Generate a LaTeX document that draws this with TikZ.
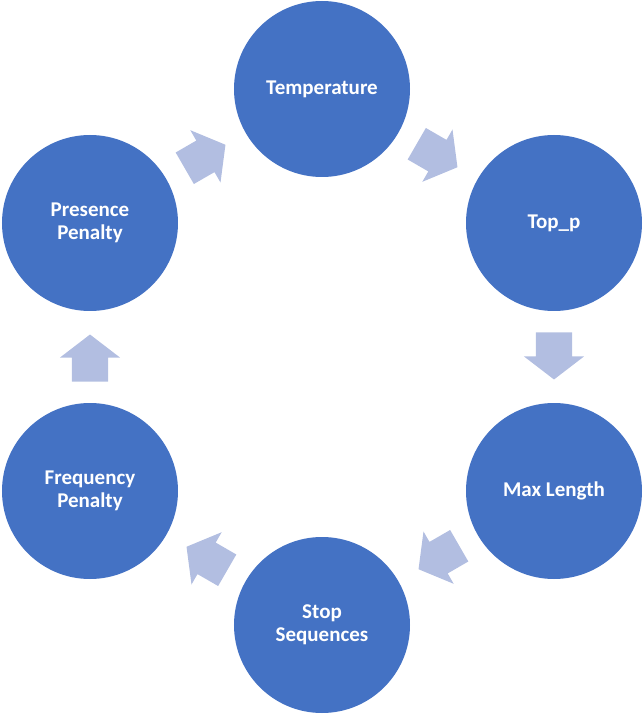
\documentclass[tikz,border=0pt]{standalone}
\usepackage{fontspec}
\setmainfont{Carlito}
\usepackage{tikz}
\usepackage{xcolor}
\usetikzlibrary{shapes,arrows,positioning,calc}
\definecolor{stepBlue}{RGB}{68,114,196}
\definecolor{arrowLilac}{RGB}{178,190,225}

\begin{document}
\begin{tikzpicture}[x=1pt, y=1pt,
    param/.style={circle, fill=stepBlue, minimum size=176pt, inner sep=0pt, align=center,
        text=white, font=\fontsize{21}{23}\selectfont\bfseries},
    cyclearrow/.style={single arrow, fill=arrowLilac, inner sep=0pt, minimum width=60pt,
        minimum height=47pt, text height=36pt, single arrow head extend=12pt,
        single arrow tip angle=105, shape border uses incircle=false}]
            \useasboundingbox (-322,-358) rectangle (322,357);
            \node[param] (temp) at (0,268) {Temperature};
            \node[param] (topp) at (232,134) {Top\_p};
            \node[param] (maxlen) at (232,-134) {Max Length};
            \node[param] (stop) at (0,-268) {Stop\\Sequences};
            \node[param] (freq) at (-232,-134) {Frequency\\Penalty};
            \node[param] (pres) at (-232,134) {Presence\\Penalty};
            % block arrows, pulled back a little towards their source
            \node[cyclearrow, rotate=-30] (a1) at ($(temp)!0.5!(topp)!8pt!(temp)$) {};
            \node[cyclearrow, rotate=-90] (a2) at ($(topp)!0.5!(maxlen)!8pt!(topp)$) {};
            \node[cyclearrow, rotate=-150] (a3) at ($(maxlen)!0.5!(stop)!8pt!(maxlen)$) {};
            \node[cyclearrow, rotate=150] (a4) at ($(stop)!0.5!(freq)!8pt!(stop)$) {};
            \node[cyclearrow, rotate=90] (a5) at ($(freq)!0.5!(pres)!8pt!(freq)$) {};
            \node[cyclearrow, rotate=30] (a6) at ($(pres)!0.5!(temp)!8pt!(pres)$) {};
        \end{tikzpicture}
\end{document}
